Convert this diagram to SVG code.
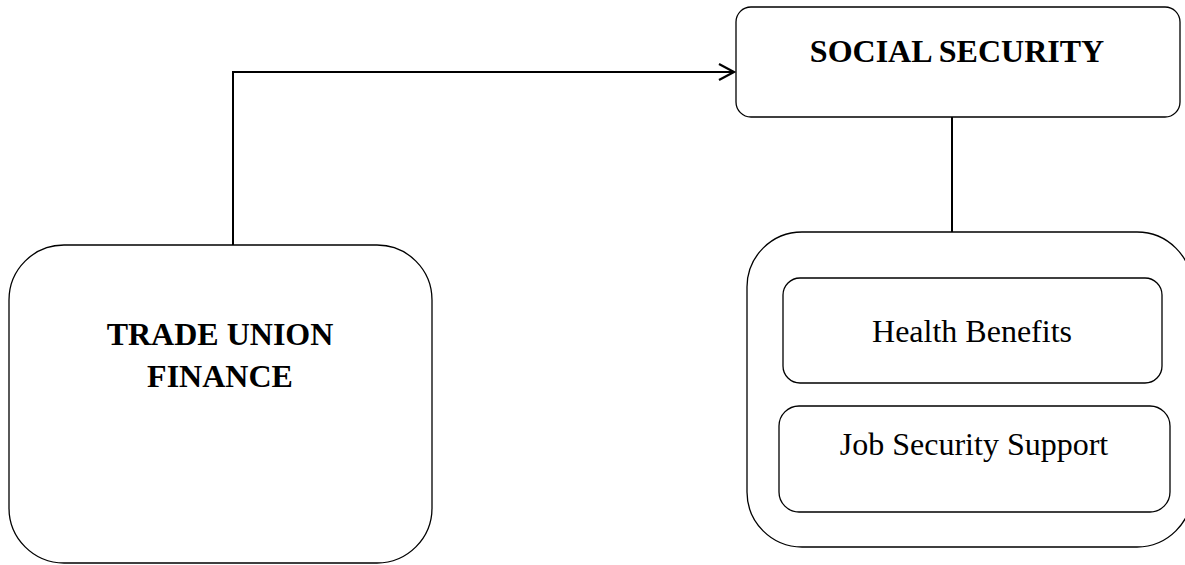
<svg xmlns="http://www.w3.org/2000/svg" width="1185" height="565" viewBox="0 0 1185 565">
<style>
.box{fill:#fff;stroke:#000;stroke-width:1.3}
.t{font-family:"Liberation Serif","Times New Roman",serif;font-size:32px;text-anchor:middle;fill:#000}
.b{font-weight:bold}
.c{fill:none;stroke:#000;stroke-width:2}
</style>
<defs>
<marker id="arr" markerWidth="20" markerHeight="20" refX="17" refY="10" orient="auto" markerUnits="userSpaceOnUse">
<path d="M2,2 L17,10 L2,18" fill="none" stroke="#000" stroke-width="2.2"/>
</marker>
</defs>
<rect width="1185" height="565" fill="#fff"/>
<g id="connectors">
<path class="c" d="M233,245 V72 H734" marker-end="url(#arr)"/>
<path class="c" d="M952,117 V232"/>
</g>
<g id="social-security">
<rect class="box" x="736" y="7" width="444" height="110" rx="15" ry="15"/>
<text class="t b" x="957" y="62">SOCIAL SECURITY</text>
</g>
<g id="trade-union-finance">
<rect class="box" x="9" y="245" width="423" height="318" rx="55" ry="55"/>
<text class="t b" x="220" y="345">TRADE UNION</text>
<text class="t b" x="220" y="387">FINANCE</text>
</g>
<g id="benefits-group">
<rect class="box" x="747" y="232" width="445" height="315" rx="55" ry="55"/>
</g>
<g id="health-benefits">
<rect class="box" x="783" y="278" width="379" height="105" rx="17" ry="17"/>
<text class="t" x="972" y="342">Health Benefits</text>
</g>
<g id="job-security-support">
<rect class="box" x="779" y="406" width="391" height="106" rx="20" ry="20"/>
<text class="t" x="974" y="455">Job Security Support</text>
</g>
</svg>
